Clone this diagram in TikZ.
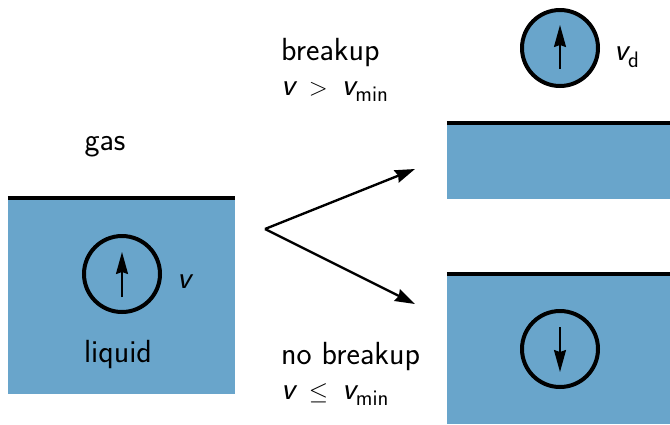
\documentclass[tikz,border=0pt]{standalone}
\usepackage{amsmath}
\usetikzlibrary{arrows.meta,calc}
\renewcommand{\familydefault}{\sfdefault}
\definecolor{liquidblue}{RGB}{105,165,203}
% italic sans velocity symbol
\newcommand{\velo}{\text{\sffamily\itshape v}}
\newcommand{\vsub}[1]{\velo_{\text{\sffamily #1}}}
\tikzset{
  pool/.style={rectangle, fill=liquidblue, inner sep=0pt, draw=none},
  surface/.style={line width=4.5pt},
  bubble/.style={circle, draw, line width=4pt, minimum size=76pt, inner sep=0pt},
  motion/.style={line width=1.8pt, -{Stealth[length=22pt,width=12pt,inset=2pt]}},
  path/.style={line width=2.4pt, -{Stealth[length=20pt,width=13pt,inset=2pt]}},
  label/.style={inner sep=0pt}
}
\begin{document}
\begin{tikzpicture}[x=1pt,y=-1pt,font=\fontsize{32}{38}\selectfont]
\useasboundingbox (0,0) rectangle (670,424);

% initial state: bubble rising in the liquid
\node[pool, minimum width=227pt, minimum height=196pt] (left) at (121.5,296) {};
\draw[surface] (left.north west) -- (left.north east);
\node[bubble] (b0) at (122,274) {};
\draw[motion] ($(b0.center)+(0,23)$) -- ($(b0.center)+(0,-22)$);
\node[label] (v0) at (184,282) {$\velo$};
\node[label] (liq) at (118,355) {liquid};
\node[label] (gas) at (105,147) {gas};

% outcomes
\coordinate (split) at (265,229);
\coordinate (tipA) at (415,169);
\coordinate (tipB) at (415,304);
\draw[path] (split) -- (tipA);
\draw[path] (split) -- (tipB);

\node[label, anchor=west] (brk) at (281,53) {breakup};
\node[label, anchor=west] (brkc) at (281,92) {$\velo \;>\; \vsub{min}$};
\node[label, anchor=west] (nobrk) at (281,357) {no breakup};
\node[label, anchor=west] (nobrkc) at (281,395) {$\velo \;\leq\; \vsub{min}$};

% breakup: detached droplet above the surface
\node[pool, minimum width=223pt, minimum height=76pt] (upper) at (558.5,161) {};
\draw[surface] (upper.north west) -- (upper.north east);
\node[bubble, fill=liquidblue] (drop) at (560,48) {};
\draw[motion] ($(drop.center)+(0,21)$) -- ($(drop.center)+(0,-23)$);
\node[label, anchor=west] (vd) at (614,57) {$\vsub{d}$};

% no breakup: bubble sinks back
\node[pool, minimum width=223pt, minimum height=150pt] (lower) at (558.5,349) {};
\draw[surface] (lower.north west) -- (lower.north east);
\node[bubble] (b1) at (560,349) {};
\draw[motion] ($(b1.center)+(0,-22)$) -- ($(b1.center)+(0,23)$);
\end{tikzpicture}
\end{document}
